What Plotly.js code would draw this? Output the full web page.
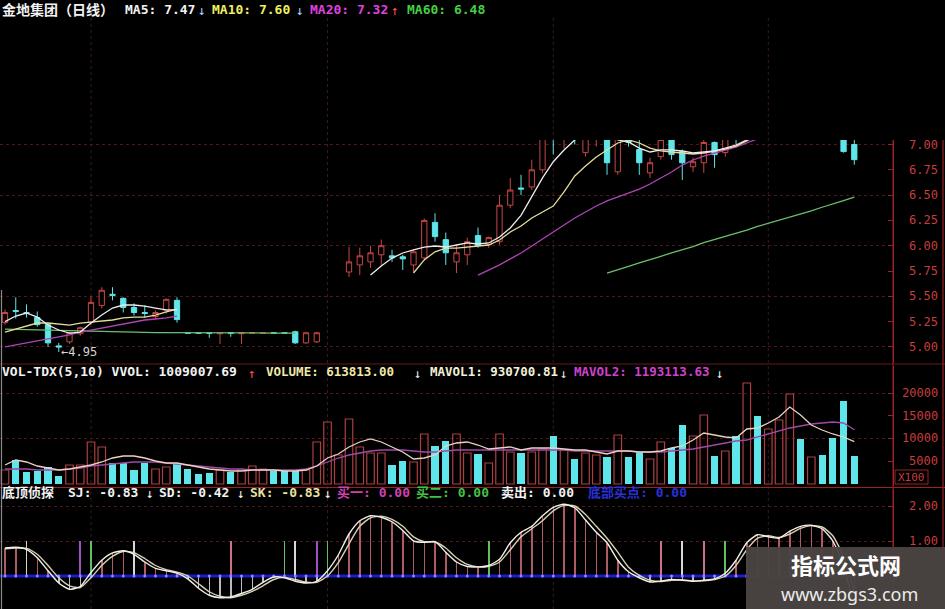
<!DOCTYPE html>
<html>
<head>
<meta charset="utf-8">
<script src="https://cdn.plot.ly/plotly-3.0.1.min.js"></script>
<style>
html,body{margin:0;padding:0;background:#000;}
#chart{width:945px;height:609px;}
</style>
</head>
<body>
<div id="chart"></div>
<script>
// ---- daily bars (index = trading day) ----
const days = Array.from({length: 80}, (_, i) => i);

const openP = [5.24,5.36,5.34,5.29,5.22,5.01,5.05,5.13,5.24,5.41,
  5.52,5.48,5.39,5.34,5.30,5.36,5.46,5.140,5.140,5.140,
  5.130,5.140,5.130,5.135,5.135,5.140,5.140,5.15,5.04,5.05,
  null,null,5.74,5.81,5.84,5.91,5.90,5.89,5.81,5.88,
  6.23,6.06,5.84,5.91,6.10,6.01,6.04,6.40,6.57,6.58,
  6.75,7.22,7.10,7.30,6.92,7.05,7.10,6.73,7.04,6.95,
  6.72,6.88,7.08,6.93,6.78,6.82,7.02,6.92,7.20,7.10,
  7.60,7.40,7.62,7.75,7.95,7.72,7.80,7.60,7.10,7.00];
const highP = [5.37,5.49,5.42,5.35,5.24,5.04,5.15,5.20,5.50,5.59,
  5.59,5.49,5.43,5.41,5.36,5.48,5.49,5.140,5.140,5.142,
  5.142,5.142,5.142,5.140,5.140,5.140,5.140,5.16,5.15,5.15,
  null,null,5.99,5.98,6.00,6.06,5.96,5.91,5.96,6.27,
  6.32,6.13,6.01,6.08,6.18,6.09,6.50,6.67,6.70,6.85,
  7.12,7.28,7.30,7.35,7.30,7.25,7.20,7.15,7.15,7.05,
  6.87,7.10,7.12,6.95,6.87,7.10,7.03,7.15,7.30,7.60,
  7.70,7.70,7.85,8.05,8.00,7.85,7.85,7.65,7.25,7.05];
const lowP = [5.22,5.28,5.29,5.20,5.00,4.95,5.03,5.11,5.22,5.38,
  5.46,5.34,5.31,5.29,5.28,5.33,5.24,5.135,5.135,5.09,
  5.03,5.10,5.03,5.135,5.135,5.135,5.135,5.03,5.03,5.04,
  null,null,5.69,5.71,5.78,5.81,5.84,5.76,5.74,5.86,
  6.04,5.81,5.73,5.81,5.98,5.98,6.01,6.37,6.50,6.55,
  6.72,6.90,6.96,7.00,6.88,6.98,6.70,6.70,6.98,6.70,
  6.67,6.85,6.85,6.65,6.73,6.72,6.77,6.88,7.00,7.07,
  7.35,7.38,7.55,7.70,7.70,7.65,7.55,7.25,6.92,6.80];
const closeP = [5.34,5.35,5.33,5.22,5.04,5.00,5.14,5.19,5.44,5.56,
  5.51,5.39,5.34,5.33,5.34,5.47,5.27,5.136,5.136,5.135,
  5.140,5.135,5.140,5.139,5.139,5.136,5.136,5.04,5.14,5.14,
  null,null,5.84,5.90,5.93,6.00,5.88,5.87,5.94,6.25,
  6.09,5.93,5.93,6.04,6.00,6.08,6.40,6.55,6.56,6.75,
  7.10,7.12,7.25,7.10,7.20,7.15,6.82,7.08,7.02,6.82,
  6.82,7.05,6.90,6.82,6.83,7.02,6.90,7.10,7.05,7.55,
  7.40,7.65,7.80,7.95,7.75,7.80,7.60,7.30,6.93,6.85];

// moving averages of the close
const ma5 = [5.25,5.305,5.335,5.295,5.216,5.167,5.137,5.147,5.236,5.315,
  5.384,5.414,5.414,5.404,5.384,5.365,5.365,null,null,null,
  null,null,null,null,null,null,null,null,null,null,
  null,null,null,null,5.71,5.80,5.878,5.928,5.958,5.987,
  5.997,5.987,6.007,6.027,6.017,6.027,6.086,6.175,6.30,6.49,
  6.67,6.83,6.946,7.045,7.12,7.16,7.09,7.045,7.025,6.965,
  6.926,6.946,6.946,6.936,6.916,6.926,6.936,6.965,6.995,7.045,
  7.15,7.30,7.45,7.60,7.72,7.78,7.75,7.62,7.55,7.47];
const ma10 = [5.147,5.177,5.207,5.236,5.236,5.226,5.216,5.236,5.246,5.256,
  5.266,5.286,5.295,5.295,5.315,5.345,5.374,null,null,null,
  null,null,null,null,null,null,null,null,null,null,
  null,null,null,null,null,null,null,null,5.73,5.86,
  5.94,5.977,5.977,5.987,5.997,6.007,6.056,6.135,6.195,6.274,
  6.333,6.392,6.531,6.689,6.788,6.876,6.946,7.015,7.045,7.015,
  6.965,6.936,6.926,6.916,6.906,6.916,6.936,6.955,6.985,7.035,
  7.10,7.18,7.26,7.36,7.44,7.52,7.57,7.60,7.61,7.60];
const ma20 = [5.00,5.02,5.04,5.06,5.08,5.10,5.118,5.147,5.167,5.187,
  5.207,5.226,5.246,5.266,5.276,5.286,5.305,null,null,null,
  null,null,null,null,null,null,null,null,null,null,
  null,null,null,null,null,null,null,null,null,null,
  null,null,null,null,5.71,5.76,5.81,5.87,5.928,5.997,
  6.066,6.135,6.205,6.274,6.333,6.392,6.442,6.481,6.521,6.56,
  6.61,6.669,6.728,6.797,6.847,6.886,6.916,6.946,6.975,7.015,
  7.06,7.10,7.14,7.18,7.22,7.25,7.28,7.30,7.31,7.32];
const ma60 = [5.175,5.172,5.17,5.167,5.163,5.16,5.157,5.155,5.153,5.15,
  5.148,5.146,5.145,5.143,5.142,5.141,5.14,5.138,5.137,5.137,
  5.137,5.137,5.137,5.137,5.137,5.137,5.137,5.137,null,null,
  null,null,null,null,null,null,null,null,null,null,
  null,null,null,null,null,null,null,null,null,null,
  null,null,null,null,null,null,5.73,5.76,5.795,5.83,
  5.86,5.895,5.93,5.96,5.99,6.03,6.06,6.09,6.12,6.155,
  6.19,6.22,6.25,6.28,6.31,6.345,6.38,6.41,6.445,6.48];

// volume in hundreds of shares, 1 = up day
const volume = [3077,5270,2640,2860,3740,1760,4180,4180,9230,8130,
  4600,4600,3080,4600,3300,3740,4600,3300,2200,2420,
  3080,2640,3080,3960,3300,2860,2860,2860,3080,9230,
  13630,6370,14290,8130,6810,6810,4180,5050,4840,10990,
  8350,9450,10990,6810,6590,4620,10990,7030,6810,7030,
  7690,10550,7470,5490,6810,6370,5930,10770,5930,7030,
  5490,9230,7910,12970,10550,15160,6150,7250,10550,22200,
  14950,12090,14070,19780,9890,5930,6370,10110,18240,6138];
const volRise = [1,0,0,0,0,0,1,1,1,1, 0,0,0,0,1,1,0,0,0,0,
  1,0,1,1,1,0,0,0,1,1, 1,1,1,1,1,1,0,0,1,1,
  0,0,1,1,0,1,1,1,0,1, 1,0,1,0,1,1,0,1,0,0,
  1,1,0,0,1,1,0,1,0,1, 0,1,1,1,0,1,0,0,0,0];
const mavol1 = [4176,5275,4836,3956,3517,3077,3297,3737,4176,4836,
  5715,6154,6154,5715,5055,4616,4616,4176,3737,3297,
  3077,2857,2857,3077,3077,3077,2857,2857,3077,3956,
  5715,6594,8133,9232,9891,9232,8133,7034,5495,5715,
  6374,8352,9012,9232,8572,7693,7913,8133,7473,7913,
  7913,7913,7693,7473,7473,7034,6594,7253,7253,7034,
  7034,7253,7913,8352,9671,11210,10770,10331,10111,12089,
  12309,13408,14727,16925,15166,12968,11869,10990,10331,9307];
const mavol2 = [3297,3297,3297,3077,3077,3077,3297,3517,3956,4176,
  4396,4616,4836,4836,4836,4616,4396,4176,3956,3737,
  3517,3297,3297,3077,3077,3077,3077,3077,3297,3956,
  4836,5715,6374,6814,7253,7473,7473,7473,7253,7034,
  7034,7253,7473,7473,7473,7473,7473,7473,7473,7473,
  7473,7473,7473,7253,7253,7253,7253,7253,7253,7034,
  7034,7034,7253,7473,7693,8133,8572,9012,9452,9671,
  10331,10990,11650,12309,12748,13188,13408,13628,13408,11931];

// 底顶侦探 oscillator
const sj = [0.80,0.82,0.76,0.52,0.15,-0.20,-0.38,-0.30,0.10,0.45,
  0.66,0.72,0.62,0.40,0.22,0.15,0.08,-0.08,-0.35,-0.55,
  -0.62,-0.60,-0.50,-0.38,-0.18,-0.03,-0.05,-0.15,-0.20,-0.15,
  0.15,0.60,1.20,1.58,1.72,1.68,1.55,1.30,1.00,0.96,
  0.98,0.68,0.40,0.27,0.26,0.30,0.48,0.95,1.25,1.42,
  1.72,1.96,2.05,1.95,1.60,1.25,0.95,0.45,0.12,-0.05,
  -0.17,-0.15,-0.10,-0.12,-0.15,-0.12,-0.08,0.08,0.45,0.95,
  1.18,1.12,1.08,1.28,1.42,1.45,1.35,1.00,0.25,-0.83];
const sd = [0.78,0.80,0.79,0.62,0.30,-0.05,-0.28,-0.33,-0.05,0.30,
  0.56,0.70,0.67,0.50,0.30,0.18,0.11,0.00,-0.22,-0.45,
  -0.58,-0.62,-0.55,-0.44,-0.28,-0.10,-0.04,-0.10,-0.18,-0.18,
  0.00,0.38,0.92,1.42,1.66,1.71,1.62,1.42,1.12,0.98,
  0.97,0.80,0.52,0.33,0.26,0.28,0.40,0.75,1.12,1.35,
  1.58,1.86,2.02,2.00,1.76,1.42,1.08,0.68,0.25,0.02,
  -0.12,-0.16,-0.12,-0.11,-0.14,-0.14,-0.10,0.00,0.30,0.75,
  1.08,1.15,1.10,1.20,1.36,1.44,1.40,1.15,0.55,-0.42];
const signalDays  = [2,7,8,12,21,26,27,29,30,45,61,63,65,67];
const signalLevel = [1,1,1,1,1,1,1,1,1,1,1,1,1,1];

// axis labels
const priceTicks = [5.00,5.25,5.50,5.75,6.00,6.25,6.50,6.75,7.00];
const priceGrid  = [5.00,5.50,6.00,6.50,7.00];
const volTicks   = [5000,10000,15000,20000];
const volGrid    = [10000,20000];
const oscTicks   = [1.00,2.00];
const monthMarks = [8,30,51,71];

// ---- styling ----
const W = 945, H = 609, PW = 893;
const FONT = "'DejaVu Sans Mono','Noto Sans CJK SC',monospace";
const RED_AXIS = '#9c2222';
const LABEL_RED = '#c83c3c';
const GRID = '#521616';
const UP = '#c84646', DOWN = '#5ee6ea';
const signalTone = ['#c8dcc0','#a050c8','#60c060','#d8d8d8','#d07088','#60c060','#d8d8d8',
  '#a050c8','#60c060','#60c060','#d07088','#d8d8d8','#d07088','#60c060'];

const px = x => x / PW;
const py = y => (H - y) / H;

const traces = [];

// price panel
traces.push({type:'scatter', x:days, y:ma60, mode:'lines', line:{color:'#6cc06c', width:1.3}, xaxis:'x', yaxis:'y', hoverinfo:'skip'});
traces.push({type:'scatter', x:days, y:ma20, mode:'lines', line:{color:'#b044b8', width:1.3}, xaxis:'x', yaxis:'y', hoverinfo:'skip'});
traces.push({type:'candlestick', x:days, open:openP, high:highP, low:lowP, close:closeP,
  increasing:{line:{color:UP, width:1}, fillcolor:'#000000'},
  decreasing:{line:{color:DOWN, width:1}, fillcolor:DOWN},
  xaxis:'x', yaxis:'y', hoverinfo:'skip'});
traces.push({type:'scatter', x:days, y:ma10, mode:'lines', line:{color:'#e6dc9c', width:1.3}, xaxis:'x', yaxis:'y', hoverinfo:'skip'});
traces.push({type:'scatter', x:days, y:ma5, mode:'lines', line:{color:'#ececec', width:1.3}, xaxis:'x', yaxis:'y', hoverinfo:'skip'});

// volume panel
traces.push({type:'bar', x:days, y:volume.map((v,i)=>volRise[i]?v:null), width:0.7,
  marker:{color:'rgba(0,0,0,0)', line:{color:'#ac4040', width:1.2}}, xaxis:'x', yaxis:'y2', hoverinfo:'skip'});
traces.push({type:'bar', x:days, y:volume.map((v,i)=>volRise[i]?null:v), width:0.66,
  marker:{color:DOWN, line:{width:0}}, xaxis:'x', yaxis:'y2', hoverinfo:'skip'});
traces.push({type:'scatter', x:days, y:mavol2, mode:'lines', line:{color:'#a04aa6', width:1.3}, xaxis:'x', yaxis:'y2', hoverinfo:'skip'});
traces.push({type:'scatter', x:days, y:mavol1, mode:'lines', line:{color:'#ead2c2', width:1.3}, xaxis:'x', yaxis:'y2', hoverinfo:'skip'});

// oscillator panel
traces.push({type:'bar', x:days, y:sj, width:0.14,
  marker:{color:sj.map(v => v >= 0 ? '#b05a66' : '#bcbcbc'), line:{width:0}}, xaxis:'x', yaxis:'y3', hoverinfo:'skip'});
traces.push({type:'bar', x:signalDays, y:signalLevel, width:0.16,
  marker:{color:signalTone, line:{width:0}}, xaxis:'x', yaxis:'y3', hoverinfo:'skip'});
traces.push({type:'scatter', x:days, y:days.map(() => 0), mode:'markers',
  marker:{color:'#8a8aff', size:3}, xaxis:'x', yaxis:'y3', hoverinfo:'skip'});
traces.push({type:'scatter', x:days, y:sd, mode:'lines', line:{color:'#d8d0b0', width:1.4, shape:'spline', smoothing:0.6}, xaxis:'x', yaxis:'y3', hoverinfo:'skip'});
traces.push({type:'scatter', x:days, y:sj, mode:'lines', line:{color:'#f0f0ea', width:1.4, shape:'spline', smoothing:0.6}, xaxis:'x', yaxis:'y3', hoverinfo:'skip'});

function yAxis(domain, range, tickvals, gridvals) {
  return {
    domain: domain, range: range, anchor: 'x', side: 'right',
    showline: true, linecolor: RED_AXIS, linewidth: 1,
    ticks: 'inside', tickvals: tickvals, ticklen: 5, tickcolor: RED_AXIS,
    showticklabels: false, showgrid: false, zeroline: false, fixedrange: true,
    minor: {tickmode: 'array', tickvals: gridvals, ticks: '', showgrid: true,
            gridcolor: GRID, griddash: 'dot', gridwidth: 1}
  };
}

function label(text, x, y, color, size, anchor, extra) {
  return Object.assign({
    xref: 'paper', yref: 'paper', x: px(x), y: py(y),
    xanchor: anchor || 'left', yanchor: 'middle', showarrow: false,
    text: text, font: {family: FONT, size: size || 13, color: color}
  }, extra || {});
}

const annotations = [
  // price header
  label('<b>金地集团（日线）</b>', 0, 10, '#f2f2f2', 14),
  label('<b>MA5: 7.47</b>', 123, 10, '#f2f2f2'),
  label('↓', 196, 11, '#9ad4ff'),
  label('<b>MA10: 7.60</b>', 210, 10, '#f0ee60'),
  label('↓', 294, 11, '#9ad4ff'),
  label('<b>MA20: 7.32</b>', 308, 10, '#e040e0'),
  label('↑', 389, 11, '#ff4a4a'),
  label('<b>MA60: 6.48</b>', 405, 10, '#44d044'),
  // volume header
  label('<b>VOL-TDX(5,10) VVOL: 1009007.69</b>', 0, 372, '#f2f2f2'),
  label('↑', 246, 373, '#ff4a4a'),
  label('<b>VOLUME: 613813.00</b>', 264, 372, '#f0e8a8', 12.5),
  label('↓', 412, 373, '#f2f2f2', 12.5),
  label('<b>MAVOL1: 930700.81</b>', 428, 372, '#f2f0d8', 12.5),
  label('↓', 558, 373, '#f2f2f2', 12.5),
  label('<b>MAVOL2: 1193113.63</b>', 572, 372, '#d040d0', 12.5),
  label('↓', 714, 373, '#f2f2f2', 12.5),
  // oscillator header
  label('<b>底顶侦探</b>', 0, 492, '#f2f2f2', 13),
  label('<b>SJ: -0.83</b>', 66, 492, '#f2f2f2'),
  label('↓', 144, 493, '#f2f2f2'),
  label('<b>SD: -0.42</b>', 157, 492, '#f2f2f2'),
  label('↓', 235, 493, '#f2f2f2'),
  label('<b>SK: -0.83</b>', 248, 492, '#e8e0a0'),
  label('↓', 322, 493, '#f2f2f2'),
  label('<b>买一: 0.00</b>', 335, 492, '#d040b0'),
  label('<b>买二: 0.00</b>', 414, 492, '#44c044'),
  label('<b>卖出: 0.00</b>', 499, 492, '#f2f2f2'),
  label('<b>底部买点: 0.00</b>', 586, 492, '#2a30d8'),
  // low marker
  {xref:'x', yref:'y', x:5.05, y:4.952, xanchor:'left', yanchor:'middle', showarrow:false,
   text:'←4.95', font:{family:FONT, size:12, color:'#d4d4d4'}},
  // unit tag
  label('X100', 911, 477, LABEL_RED, 11, 'center'),
  // watermark
  label('<b>指标公式网</b>', 846, 564, '#ffffff', 22, 'center', {font:{family:"'Noto Sans CJK SC',sans-serif", size:22, color:'#ffffff'}}),
  label('www.zbgs3.com', 849, 594, '#ececec', 18, 'center', {font:{family:"'Noto Sans',sans-serif", size:18, color:'#ececec'}})
];

// right-hand scale labels
priceTicks.forEach(v => annotations.push({xref:'paper', yref:'y', x:px(940), y:v, xanchor:'right', yanchor:'middle',
  showarrow:false, text:v.toFixed(2), font:{family:FONT, size:12, color:LABEL_RED}}));
volTicks.forEach(v => annotations.push({xref:'paper', yref:'y2', x:px(940), y:v, xanchor:'right', yanchor:'middle',
  showarrow:false, text:String(v), font:{family:FONT, size:12, color:LABEL_RED}}));
oscTicks.forEach(v => annotations.push({xref:'paper', yref:'y3', x:px(940), y:v, xanchor:'right', yanchor:'middle',
  showarrow:false, text:v.toFixed(2), font:{family:FONT, size:12, color:LABEL_RED}}));

const shapes = [
  // zero line of the oscillator
  {type:'line', xref:'paper', yref:'y3', x0:0, x1:1, y0:0, y1:0, line:{color:'#1c1cc8', width:3}, layer:'below'},
  // panel separators and scale frame
  {type:'line', xref:'paper', yref:'paper', x0:0, x1:px(W), y0:py(364), y1:py(364), line:{color:'#6a1818', width:1}},
  {type:'line', xref:'paper', yref:'paper', x0:0, x1:px(W), y0:py(487.5), y1:py(487.5), line:{color:RED_AXIS, width:1.2}},
  {type:'line', xref:'paper', yref:'paper', x0:px(943), x1:px(943), y0:py(140), y1:0, line:{color:RED_AXIS, width:1.2}},
  {type:'line', xref:'paper', yref:'paper', x0:px(893), x1:px(893), y0:py(140), y1:0, line:{color:RED_AXIS, width:1}},
  {type:'line', xref:'paper', yref:'paper', x0:px(1.5), x1:px(1.5), y0:py(290), y1:0, line:{color:'#8a8a8a', width:1.2}},
  // unit tag frame
  {type:'rect', xref:'paper', yref:'paper', x0:px(895), x1:px(928), y0:py(470), y1:py(484), line:{color:RED_AXIS, width:1}},
  // watermark plate
  {type:'rect', xref:'paper', yref:'paper', x0:px(746), x1:px(W), y0:0, y1:py(547),
   fillcolor:'rgba(74,68,66,0.96)', line:{width:0}, layer:'above'}
];
monthMarks.forEach(d => shapes.push({type:'line', xref:'x', yref:'paper', x0:d, x1:d, y0:0, y1:py(18),
  line:{color:'#3a1a1a', width:1, dash:'dot'}, layer:'below'}));

const layout = {
  width: W, height: H,
  margin: {l:0, r:W-PW, t:0, b:0, pad:0},
  paper_bgcolor: '#000000', plot_bgcolor: '#000000',
  showlegend: false, hovermode: false, barmode: 'overlay', bargap: 0,
  xaxis: {range:[-0.465, 82.6], visible:false, rangeslider:{visible:false}, fixedrange:true},
  yaxis:  yAxis([py(363), py(140)], [4.841, 7.0445], priceTicks, priceGrid),
  yaxis2: yAxis([py(486), py(366)], [-440, 25934], volTicks, volGrid),
  yaxis3: yAxis([0, py(489)], [-0.943, 2.486], oscTicks, oscTicks),
  annotations: annotations,
  shapes: shapes
};

Plotly.newPlot('chart', traces, layout, {staticPlot:true, displayModeBar:false});
</script>
</body>
</html>
